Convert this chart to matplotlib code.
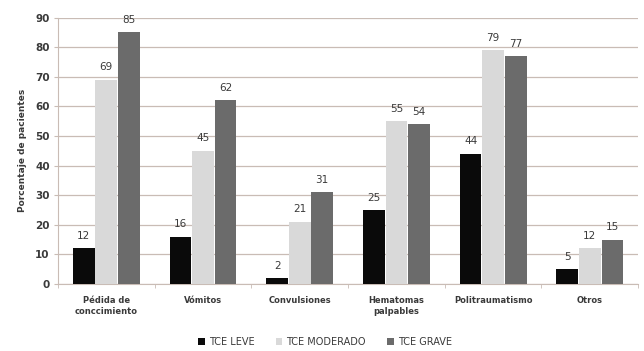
import numpy as np
import matplotlib.pyplot as plt

categories = ['Pédida de\nconccimiento', 'Vómitos', 'Convulsiones',
              'Hematomas\npalpables', 'Politraumatismo', 'Otros']
leve = [12, 16, 2, 25, 44, 5]
moderado = [69, 45, 21, 55, 79, 12]
grave = [85, 62, 31, 54, 77, 15]
series_names = ['TCE LEVE', 'TCE MODERADO', 'TCE GRAVE']
colors = ['#0a0a0a', '#d9d9d9', '#6b6b6b']
yticks = list(range(0, 100, 10))

grid_c = '#c9bcb5'
text_c = '#3a3a3a'

fig = plt.figure(figsize=(6.44, 3.51), dpi=100)
ax = fig.add_axes([0.090, 0.191, 0.901, 0.759])

x = np.arange(len(categories))
w = 0.225
off = 0.233
for i, (vals, name, c) in enumerate(zip([leve, moderado, grave], series_names, colors)):
    pos = x + (i - 1) * off
    ax.bar(pos, vals, width=w, color=c, label=name, zorder=3)
    for p, v in zip(pos, vals):
        ax.text(p, v + 2.5, str(v), ha='center', va='bottom', fontsize=7.5,
                color=text_c, zorder=4)

ax.set_xlim(-0.5, len(categories) - 0.5)
ax.set_ylim(0, 90)
ax.set_yticks(yticks)
ax.set_xticks(x)
ax.set_xticklabels(categories, fontsize=6, fontweight='bold', color=text_c)
for lab in ax.get_yticklabels():
    lab.set_fontsize(7.5)
    lab.set_fontweight('bold')
    lab.set_color(text_c)
ax.tick_params(axis='x', length=0, pad=9)
ax.tick_params(axis='y', length=3, color=grid_c, pad=3)
ax.set_xticks(np.arange(len(categories) + 1) - 0.5, minor=True)
ax.tick_params(axis='x', which='minor', length=3, color=grid_c)

ax.yaxis.grid(True, color=grid_c, linewidth=0.9, zorder=0)
ax.set_axisbelow(True)
for s in ['top', 'right']:
    ax.spines[s].set_visible(False)
ax.spines['left'].set_color(grid_c)
ax.spines['bottom'].set_color(grid_c)

ax.set_ylabel('Porcentaje de pacientes', fontsize=6.5, fontweight='bold',
              color=text_c, labelpad=6)

ax.legend(loc='upper center', bbox_to_anchor=(0.46, -0.165), ncol=3,
          frameon=False, fontsize=7, handlelength=0.7, handleheight=0.7,
          handletextpad=0.4, columnspacing=2.2, labelcolor=text_c)

fig.savefig('out.png', dpi=100)
